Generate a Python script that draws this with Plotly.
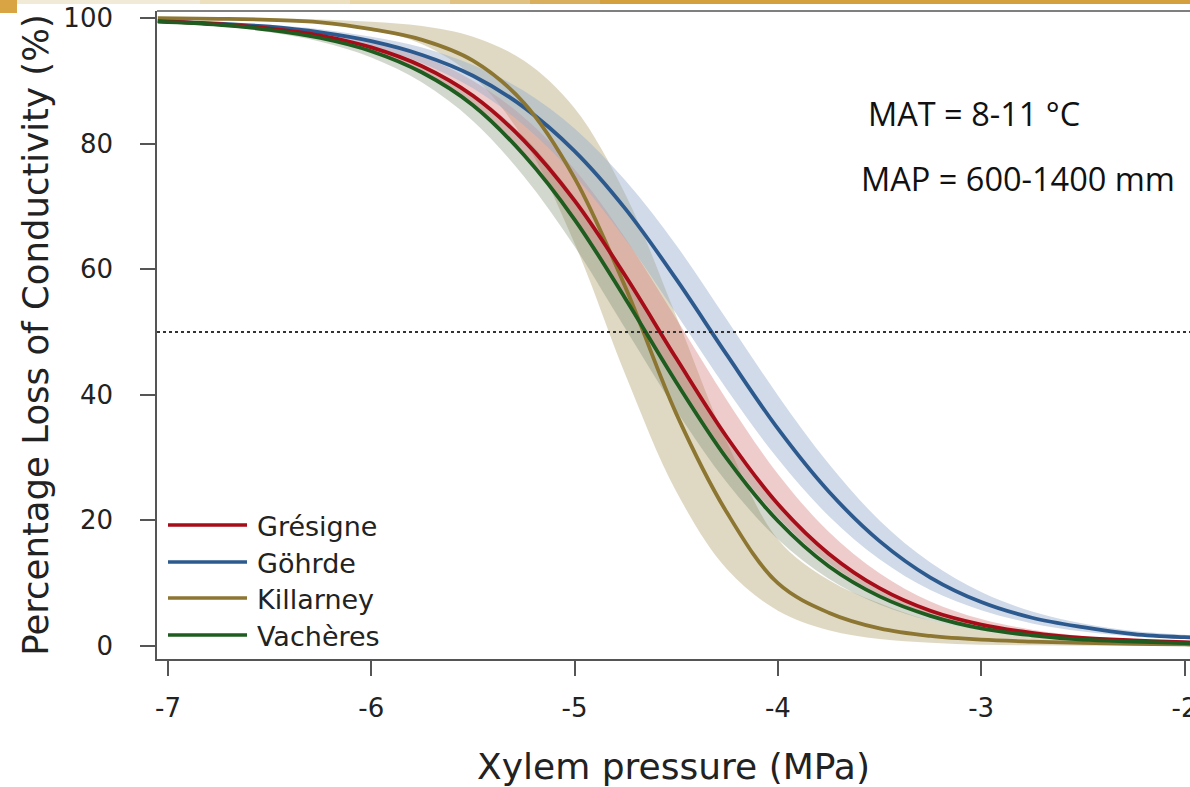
import plotly.graph_objects as go

# ---------------- data ----------------
XP = [-7.05, -6.75, -6.5, -6.25, -6.0, -5.75, -5.5, -5.25, -5.0, -4.75, -4.5,
      -4.25, -4.0, -3.75, -3.5, -3.25, -3.0, -2.75, -2.5, -2.25, -2.0, -1.9]

site_names = ["Grésigne", "Göhrde", "Killarney", "Vachères"]

gresigne = [99.5, 99.0, 98.3, 97.2, 95.3, 92.3, 87.6, 80.5, 70.9, 58.9, 45.8,
            33.2, 22.6, 14.7, 9.2, 5.6, 3.4, 2.1, 1.3, 0.9, 0.6, 0.5]
gresigne_lo = [99.4, 98.9, 98.1, 96.8, 94.7, 91.3, 86.1, 78.4, 68.2, 55.8, 42.6,
               30.4, 20.5, 13.2, 8.2, 5.0, 3.0, 1.8, 1.1, 0.7, 0.45, 0.4]
gresigne_hi = [99.6, 99.2, 98.7, 97.8, 96.3, 93.9, 90.0, 84.2, 75.9, 64.9, 52.1,
               39.1, 27.4, 18.2, 11.6, 7.1, 4.3, 2.6, 1.6, 1.1, 0.8, 0.7]

gohrde = [99.5, 99.1, 98.6, 97.7, 96.3, 94.1, 90.8, 85.8, 78.8, 69.6, 58.4,
          46.3, 34.6, 24.6, 16.7, 10.9, 7.0, 4.5, 3.0, 1.9, 1.4, 1.3]
gohrde_lo = [99.4, 98.9, 98.2, 97.2, 95.4, 92.8, 88.8, 82.9, 74.9, 64.7, 52.9,
             40.8, 29.8, 20.7, 13.8, 8.9, 5.7, 3.6, 2.3, 1.5, 1.1, 1.0]
gohrde_hi = [99.6, 99.3, 98.9, 98.2, 97.0, 95.3, 92.5, 88.4, 82.4, 74.1, 63.8,
             51.9, 39.9, 29.0, 20.0, 13.3, 8.6, 5.5, 3.6, 2.4, 1.8, 1.6]

killarney = [99.95, 99.86, 99.7, 99.3, 98.2, 96.5, 93.2, 86.5, 74.5, 57.1, 37.0,
             21.2, 10.0, 5.3, 2.8, 1.6, 1.0, 0.7, 0.5, 0.35, 0.25, 0.2]
killarney_lo = [99.95, 99.85, 99.66, 99.2, 98.2, 95.8, 90.7, 80.7, 64.1, 43.2, 24.6,
                12.2, 5.6, 2.5, 1.1, 0.5, 0.2, 0.1, 0.05, 0.03, 0.02, 0.02]
killarney_hi = [99.98, 99.95, 99.9, 99.75, 99.4, 98.7, 97.0, 93.2, 85.6, 71.9, 52.5,
                32.4, 17.0, 10.5, 6.8, 4.0, 2.4, 1.4, 0.9, 0.6, 0.4, 0.35]

vacheres = [99.4, 98.9, 98.1, 96.8, 94.7, 91.3, 86.1, 78.2, 67.9, 55.3, 42.0,
            29.8, 19.9, 12.7, 7.9, 4.8, 2.8, 1.7, 1.0, 0.7, 0.45, 0.4]
vacheres_lo = [99.3, 98.7, 97.7, 96.2, 93.7, 89.7, 83.6, 74.8, 63.6, 50.5, 37.5,
               26.0, 17.0, 10.7, 6.6, 4.0, 2.4, 1.4, 0.8, 0.5, 0.3, 0.25]
vacheres_hi = [99.5, 99.1, 98.4, 97.3, 95.5, 92.6, 88.0, 81.1, 71.5, 59.5, 46.3,
               33.5, 22.8, 14.7, 9.2, 5.6, 3.4, 2.0, 1.2, 0.8, 0.5, 0.45]

x_ticks = [-7, -6, -5, -4, -3, -2]
y_ticks = [0, 20, 40, 60, 80, 100]
threshold = 50

# ---------------- styling ----------------
line_colors = {"Grésigne": "#A60D18", "Göhrde": "#2D5A8E",
               "Killarney": "#8C7632", "Vachères": "#1F5C1F"}
band_colors = {"Grésigne": "rgba(214,120,120,0.38)", "Göhrde": "rgba(150,172,205,0.45)",
               "Killarney": "rgba(196,186,148,0.55)", "Vachères": "rgba(110,125,95,0.30)"}

series = {"Grésigne": (gresigne, gresigne_lo, gresigne_hi),
          "Göhrde": (gohrde, gohrde_lo, gohrde_hi),
          "Killarney": (killarney, killarney_lo, killarney_hi),
          "Vachères": (vacheres, vacheres_lo, vacheres_hi)}

fig = go.Figure()

for name in ["Killarney", "Vachères", "Grésigne", "Göhrde"]:
    mid, lo, hi = series[name]
    fig.add_trace(go.Scatter(x=XP, y=lo, mode="lines", showlegend=False, hoverinfo="skip",
                             line=dict(width=0, shape="spline", color=band_colors[name])))
    fig.add_trace(go.Scatter(x=XP, y=hi, mode="lines", showlegend=False, hoverinfo="skip",
                             fill="tonexty", fillcolor=band_colors[name],
                             line=dict(width=0, shape="spline", color=band_colors[name])))

for name in ["Göhrde", "Killarney", "Grésigne", "Vachères"]:
    mid = series[name][0]
    fig.add_trace(go.Scatter(x=XP, y=mid, mode="lines", name=name, showlegend=False,
                             line=dict(width=3.8, shape="spline", color=line_colors[name])))

# 50 % reference line
fig.add_hline(y=threshold, line=dict(color="#333333", width=2, dash="dot"))

# plot geometry (pixels)
L, T, R, B = 157, 11, 1190, 659
W, H = 1190, 787
pw, ph = R - L, B - T


def px_x(p):
    return (p - L) / pw


def px_y(p):
    return (B - p) / ph


# top frame line
fig.add_shape(type="line", xref="paper", yref="paper", x0=0, x1=1.01, y0=1, y1=1,
              line=dict(color="#555555", width=1.6))

# decorative banner at top of slide
grad = ["#F1EAD6", "#EDE0BE", "#E8D3A2", "#E0C182", "#D9AE5C", "#D4A03E"]
seg = [0, 200, 350, 450, 530, 600, 1190]
for i, c in enumerate(grad):
    fig.add_shape(type="rect", xref="paper", yref="paper", layer="above",
                  x0=px_x(seg[i]), x1=px_x(seg[i + 1]), y0=px_y(4), y1=px_y(0),
                  line=dict(width=0), fillcolor=c)
fig.add_shape(type="rect", xref="paper", yref="paper",
              x0=px_x(0), x1=px_x(17), y0=px_y(13), y1=px_y(0),
              line=dict(width=0), fillcolor="#D9A443")

# manual legend
leg_rows = [525, 562, 598, 635]
for name, yy in zip(site_names, leg_rows):
    fig.add_shape(type="line", xref="paper", yref="paper",
                  x0=px_x(168), x1=px_x(247), y0=px_y(yy), y1=px_y(yy),
                  line=dict(color=line_colors[name], width=3.5))
    fig.add_annotation(x=px_x(255), y=px_y(yy + 1), xref="paper", yref="paper",
                       text=name, showarrow=False, xanchor="left", yanchor="middle",
                       font=dict(family="DejaVu Sans", size=27, color="#222222"))

# climate annotations
fig.add_annotation(x=px_x(866), y=px_y(113), xref="paper", yref="paper",
                   text="MAT = 8-11 °C", showarrow=False, xanchor="left", yanchor="middle",
                   font=dict(family="Open Sans", size=32.5, color="#111111"))
fig.add_annotation(x=px_x(859), y=px_y(178), xref="paper", yref="paper",
                   text="MAP = 600-1400 mm", showarrow=False, xanchor="left", yanchor="middle",
                   font=dict(family="Open Sans", size=32.5, color="#111111"))

fig.update_layout(
    width=W, height=H,
    margin=dict(l=L, r=W - R, t=T, b=H - B, autoexpand=False),
    paper_bgcolor="white", plot_bgcolor="white",
    font=dict(family="DejaVu Sans", color="#222222"),
    xaxis=dict(range=[-7.054, -1.973], tickvals=x_ticks, ticktext=[str(v) for v in x_ticks],
               showgrid=False, zeroline=False, showline=True, linecolor="#555555", linewidth=1.6,
               ticks="outside", ticklen=15, tickwidth=1.5, tickcolor="#555555",
               ticklabelstandoff=10, automargin=False, ticklabeloverflow="allow",
               tickfont=dict(size=26, family="DejaVu Sans", color="#222222"),
               title=dict(text="Xylem pressure (MPa)", standoff=34,
                          font=dict(size=36, family="DejaVu Sans", color="#222222"))),
    yaxis=dict(range=[-2.07, 101.1], tickvals=y_ticks, ticktext=[str(v) for v in y_ticks],
               showgrid=False, zeroline=False, showline=True, linecolor="#555555", linewidth=1.6,
               ticks="outside", ticklen=15, tickwidth=1.5, tickcolor="#555555",
               ticklabelstandoff=22, automargin=False,
               tickfont=dict(size=26, family="DejaVu Sans", color="#222222"),
               title=dict(text="Percentage Loss of Conductivity (%)", standoff=4,
                          font=dict(size=35.5, family="DejaVu Sans", color="#222222"))),
)

fig.write_html("out.html", config={"displayModeBar": False},
               post_script="document.body.style.margin='0px';")
